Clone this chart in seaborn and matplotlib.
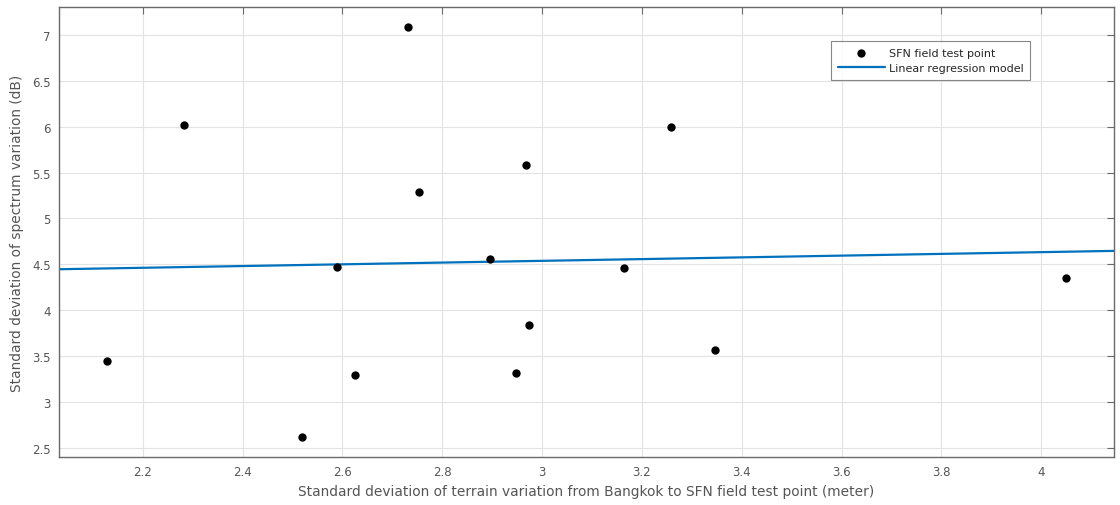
import numpy as np
import pandas as pd
import matplotlib
matplotlib.use("Agg")
import matplotlib.pyplot as plt
import seaborn as sns

# Data
terrain_sd = [2.128, 2.283, 2.518, 2.588, 2.626, 2.732, 2.754, 2.967,
              3.258, 2.895, 3.164, 2.973, 2.947, 3.346, 4.050]
spectrum_sd = [3.449, 6.017, 2.620, 4.464, 3.293, 7.087, 5.293, 5.584,
               6.000, 4.555, 4.456, 3.833, 3.318, 3.569, 4.344]
x_ticks = [2.2, 2.4, 2.6, 2.8, 3.0, 3.2, 3.4, 3.6, 3.8, 4.0]
x_tick_labels = ["2.2", "2.4", "2.6", "2.8", "3", "3.2", "3.4", "3.6", "3.8", "4"]
y_ticks = [2.5, 3.0, 3.5, 4.0, 4.5, 5.0, 5.5, 6.0, 6.5, 7.0]
y_tick_labels = ["2.5", "3", "3.5", "4", "4.5", "5", "5.5", "6", "6.5", "7"]

df = pd.DataFrame({"x": terrain_sd, "y": spectrum_sd})

sns.set_style("white")
plt.rcParams["font.family"] = ["DejaVu Sans"]

fig = plt.figure(figsize=(11.2, 5.06), dpi=100)
ax = fig.add_axes([0.0527, 0.0955, 0.942, 0.8885])

ax.set_xlim(2.032, 4.146)
ax.set_ylim(2.40, 7.305)

# regression line spanning the full axis
sns.regplot(data=df, x="x", y="y", ax=ax, scatter=False, ci=None,
            truncate=False, color="#0072BD",
            line_kws={"linewidth": 1.6, "zorder": 2})
reg_line = ax.lines[-1]
reg_line.set_label("Linear regression model")

sns.scatterplot(data=df, x="x", y="y", ax=ax, color="black", s=36,
                edgecolor="black", linewidth=0, zorder=3, legend=False)
pts = ax.collections[-1]
pts.set_label("SFN field test point")

ax.set_xlim(2.032, 4.146)
ax.set_ylim(2.40, 7.305)
ax.set_xticks(x_ticks)
ax.set_xticklabels(x_tick_labels)
ax.set_yticks(y_ticks)
ax.set_yticklabels(y_tick_labels)

ax.grid(True, color="#e3e3e3", linewidth=0.8)
ax.set_axisbelow(True)
for s in ax.spines.values():
    s.set_color("#6a6a6a")
    s.set_linewidth(1.0)
ax.tick_params(direction="in", length=5, width=0.8, colors="#6a6a6a",
               labelcolor="#555555", labelsize=8.5, top=True, right=True,
               labeltop=False, labelright=False, pad=6)

ax.set_xlabel("Standard deviation of terrain variation from Bangkok to SFN field test point (meter)",
              fontsize=9.9, color="#555555", labelpad=4)
ax.set_ylabel("Standard deviation of spectrum variation (dB)",
              fontsize=9.9, color="#555555", labelpad=6)

leg = ax.legend([pts, reg_line], ["SFN field test point", "Linear regression model"],
                loc="upper right", bbox_to_anchor=(0.926, 0.937),
                fontsize=8, frameon=True, fancybox=False, borderpad=0.6,
                handlelength=4.2, handletextpad=0.4, labelspacing=0.5)
leg.get_frame().set_edgecolor("#6a6a6a")
leg.get_frame().set_linewidth(0.8)

fig.savefig("out.png", dpi=100)
